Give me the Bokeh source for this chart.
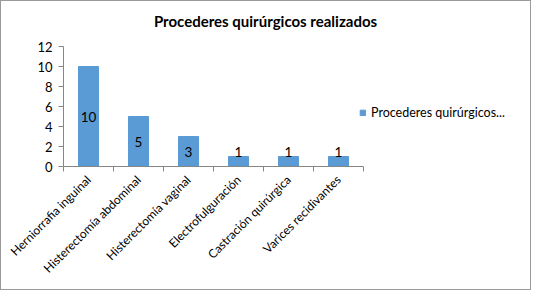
from bokeh.plotting import figure
from bokeh.models import Range1d, FixedTicker, Label, Legend, LegendItem, ColumnDataSource
from bokeh.embed import file_html
from bokeh.resources import INLINE
from bokeh.core.properties import value
import math

categories = ["Herniorrafia inguinal", "Histerectomía abdominal", "Histerectomía vaginal",
              "Electrofulguración", "Castración quirúrgica", "Varices recidivantes"]
counts = [10, 5, 3, 1, 1, 1]
y_ticks = [0, 2, 4, 6, 8, 10, 12]
title_text = "Procederes quirúrgicos realizados"
legend_text = "Procederes quirúrgicos..."

FONT = "Lato"
BAR = "#5B9BD5"
AXIS = "#868686"

n = len(categories)
xs = [i + 0.5 for i in range(n)]

# frame extends over the legend and title area; axes are bounded to the data area
p = figure(width=531, height=290, output_backend="svg", toolbar_location=None,
           x_range=Range1d(0, 9.36), y_range=Range1d(0, 16.5),
           min_border_left=62, min_border_right=1, min_border_top=0, min_border_bottom=125)
p.styles = {"border": "1px solid #9a9a9a"}
p.outline_line_color = None
p.xgrid.visible = False
p.ygrid.visible = False
p.background_fill_color = "white"
p.border_fill_color = "white"

src = ColumnDataSource(dict(x=xs, top=counts, name=categories))
r = p.vbar(x="x", top="top", width=0.4, source=src, fill_color=BAR, line_color=BAR)

# data labels
in_x = [x for x, v in zip(xs, counts) if v > 2]
in_y = [v / 2 for v in counts if v > 2]
in_t = [str(v) for v in counts if v > 2]
out_x = [x for x, v in zip(xs, counts) if v <= 2]
out_y = [v for v in counts if v <= 2]
out_t = [str(v) for v in counts if v <= 2]
p.text(x=in_x, y=in_y, text=in_t, text_align="center", text_baseline="middle",
       text_font=value(FONT), text_font_size="13.5px", text_color="black")
p.text(x=out_x, y=out_y, text=out_t, text_align="center", text_baseline="bottom",
       text_font=value(FONT), text_font_size="13.5px", text_color="black")

# y axis
ya = p.yaxis[0]
ya.bounds = (0, 12)
ya.ticker = FixedTicker(ticks=y_ticks, minor_ticks=[])
ya.axis_line_color = AXIS
ya.major_tick_line_color = AXIS
ya.major_tick_out = 5
ya.major_tick_in = 0
ya.major_label_standoff = 6
ya.major_label_text_font = FONT
ya.major_label_text_font_size = "13px"
ya.major_label_text_color = "black"

# x axis
xa = p.xaxis[0]
xa.bounds = (0, n)
xa.ticker = FixedTicker(ticks=xs, minor_ticks=list(range(n + 1)))
xa.major_label_overrides = {x: c for x, c in zip(xs, categories)}
xa.axis_line_color = AXIS
xa.major_tick_line_color = None
xa.major_tick_out = 0
xa.major_tick_in = 0
xa.minor_tick_line_color = AXIS
xa.minor_tick_out = 5
xa.minor_tick_in = 0
xa.major_label_orientation = math.pi / 4
xa.major_label_standoff = 6
xa.major_label_text_font = FONT
xa.major_label_text_font_size = "12px"
xa.major_label_text_color = "black"

# title
p.add_layout(Label(x=4.04, y=14.6, text=title_text, text_align="center", text_baseline="middle",
                   text_font=FONT, text_font_style="bold", text_font_size="15px", text_color="black"))

legend = Legend(items=[LegendItem(label=legend_text, renderers=[r])], location=(296, 46),
                padding=0, margin=0, border_line_color=None, background_fill_alpha=0,
                glyph_width=7, glyph_height=7, label_standoff=5, label_text_font=FONT,
                label_text_font_size="12.5px", label_text_color="black")
p.add_layout(legend)

open("out.html", "w").write(file_html(p, INLINE))
